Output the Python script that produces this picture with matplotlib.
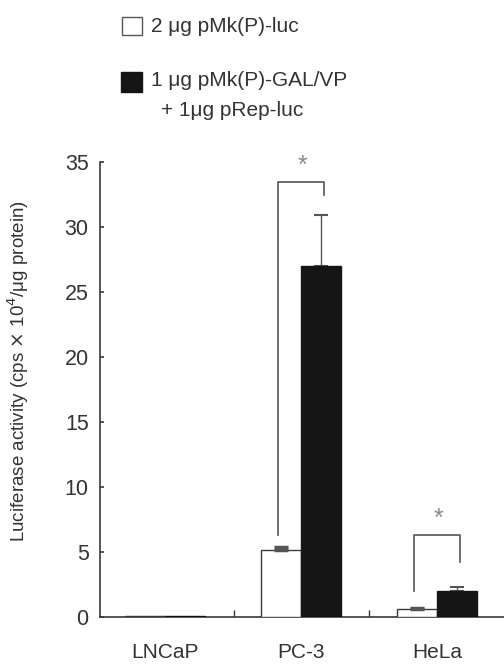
import numpy as np
import matplotlib
matplotlib.use("Agg")
import matplotlib.pyplot as plt

plt.rcParams['font.family'] = ['Liberation Sans', 'DejaVu Sans']

# data
cell_lines = ['LNCaP', 'PC-3', 'HeLa']
luc_only = [0.08, 5.15, 0.6]          # 2 ug pMk(P)-luc
luc_only_err = [0.0, 0.2, 0.12]
gal_vp = [0.1, 27.0, 2.0]             # 1 ug pMk(P)-GAL/VP + 1 ug pRep-luc
gal_vp_err = [0.0, 3.9, 0.3]
y_ticks = [0, 5, 10, 15, 20, 25, 30, 35]

# significance brackets: (group, top, left leg end, right leg end)
brackets = [(1, 33.5, 6.3, 32.5), (2, 6.3, 2.0, 4.2)]

ink = '#3a3a3a'
fig = plt.figure(figsize=(5.04, 6.69), dpi=100)
ax = fig.add_axes([0.198, 0.0777, 0.802, 0.680])

x = np.arange(len(cell_lines))
w = 0.294

ax.bar(x - w / 2, luc_only, w, color='white', edgecolor=ink, linewidth=1.0, zorder=3)
ax.bar(x + w / 2, gal_vp, w, color='#151515', edgecolor='#151515', linewidth=1.0, zorder=3)

for i in range(len(x)):
    if luc_only_err[i] > 0:
        ax.errorbar(x[i] - w / 2, luc_only[i], yerr=[[0], [luc_only_err[i]]],
                    fmt='none', ecolor='#555555', elinewidth=1.0, capsize=5, capthick=2.5, zorder=4)
    if gal_vp_err[i] > 0:
        ax.errorbar(x[i] + w / 2, gal_vp[i], yerr=[[0], [gal_vp_err[i]]],
                    fmt='none', ecolor='#555555', elinewidth=1.0, capsize=5, capthick=1.5, zorder=2)

for g, top, left_end, right_end in brackets:
    xl = g - w / 2 - 0.02
    xr = g + w / 2 + 0.02
    ax.plot([xl, xl, xr, xr], [left_end, top, top, right_end],
            color='#555555', linewidth=1.2, zorder=5, clip_on=False)
    ax.text(g + 0.01, top + 0.3, '*', ha='center', va='bottom',
            fontsize=18, color='#8a8a8a')

ax.set_xlim(-0.478, 2.493)
ax.set_ylim(0, 35)
ax.set_yticks(y_ticks)
ax.set_xticks(x)
ax.set_xticklabels(cell_lines)
ax.set_xticks([0.51, 1.5], minor=True)

ax.spines['top'].set_visible(False)
ax.spines['right'].set_visible(False)
for s in ['left', 'bottom']:
    ax.spines[s].set_color(ink)
    ax.spines[s].set_linewidth(1.2)

ax.tick_params(axis='y', direction='in', length=3, width=1.2, colors=ink,
               labelsize=15.5, pad=8, labelcolor='#333333')
ax.tick_params(axis='x', which='major', length=0, labelsize=15, pad=19,
               labelcolor='#333333')
ax.tick_params(axis='x', which='minor', direction='in', length=5, width=1.0, colors=ink)

ax.set_ylabel('Luciferase activity (cps $\\times$ 10$^4$/μg protein)',
              fontsize=13.5, color='#333333')
ax.yaxis.set_label_coords(-0.17, 0.54)

# legend drawn by hand in figure pixels
fig.patches.append(plt.Rectangle((122 / 504, 1 - 35 / 669), 20 / 504, 18 / 669,
                                 transform=fig.transFigure, facecolor='white',
                                 edgecolor='#555555', linewidth=1.0))
fig.patches.append(plt.Rectangle((121 / 504, 1 - 92 / 669), 21 / 504, 20 / 669,
                                 transform=fig.transFigure, facecolor='#151515',
                                 edgecolor='#151515', linewidth=1.0))
fig.text(151 / 504, 1 - 26 / 669, '2 μg pMk(P)-luc', fontsize=15,
         va='center', ha='left', color='#333333')
fig.text(151 / 504, 1 - 81 / 669, '1 μg pMk(P)-GAL/VP', fontsize=15,
         va='center', ha='left', color='#333333')
fig.text(161 / 504, 1 - 110 / 669, '+ 1μg pRep-luc', fontsize=15,
         va='center', ha='left', color='#333333')

fig.savefig('out.png', dpi=100)
